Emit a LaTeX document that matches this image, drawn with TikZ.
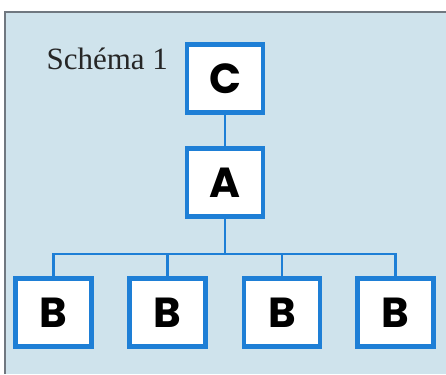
\documentclass[tikz,border=0pt]{standalone}
\usepackage{fontspec}
\setmainfont{Liberation Serif}
\newfontfamily\boxfont{Poppins}
\definecolor{panelbg}{HTML}{CFE3EC}
\definecolor{boxblue}{HTML}{1E7FD6}
\definecolor{edgegray}{HTML}{707880}
\tikzset{
  lbox/.style={draw=boxblue, line width=4.5pt, fill=white, minimum width=76pt, minimum height=68pt, inner sep=0pt, font=\boxfont\bfseries\fontsize{42}{42}\selectfont, text=black},
  conn/.style={draw=boxblue, line width=2.4pt}
}
\begin{document}
\begin{tikzpicture}[x=1pt,y=-1pt]
\useasboundingbox (0,0) rectangle (446,374);
\fill[white] (0,0) rectangle (446,374);
\fill[panelbg] (5,12) rectangle (446,374);
\draw[edgegray, line width=1.5pt] (5,374) -- (5,12) -- (446,12);
\node[anchor=base west, font=\fontsize{31}{31}\selectfont, text=black!85] (title) at (43,70) {Schéma 1};
\node[lbox] (c) at (225,78.5) {C};
\node[lbox] (a) at (225,182.5) {A};
\node[lbox] (b1) at (53.5,312.5) {B};
\node[lbox] (b2) at (167.5,312.5) {B};
\node[lbox] (b3) at (282,312.5) {B};
\node[lbox] (b4) at (395.5,312.5) {B};
\coordinate (j) at (225,254);
\draw[conn] (c.south) -- (a.north);
\draw[conn] (a.south) -- (j);
\draw[conn] (b1.north) |- (j) -| (b4.north);
\draw[conn] (b2.north) -- (b2.north |- j);
\draw[conn] (b3.north) -- (b3.north |- j);
\end{tikzpicture}
\end{document}
